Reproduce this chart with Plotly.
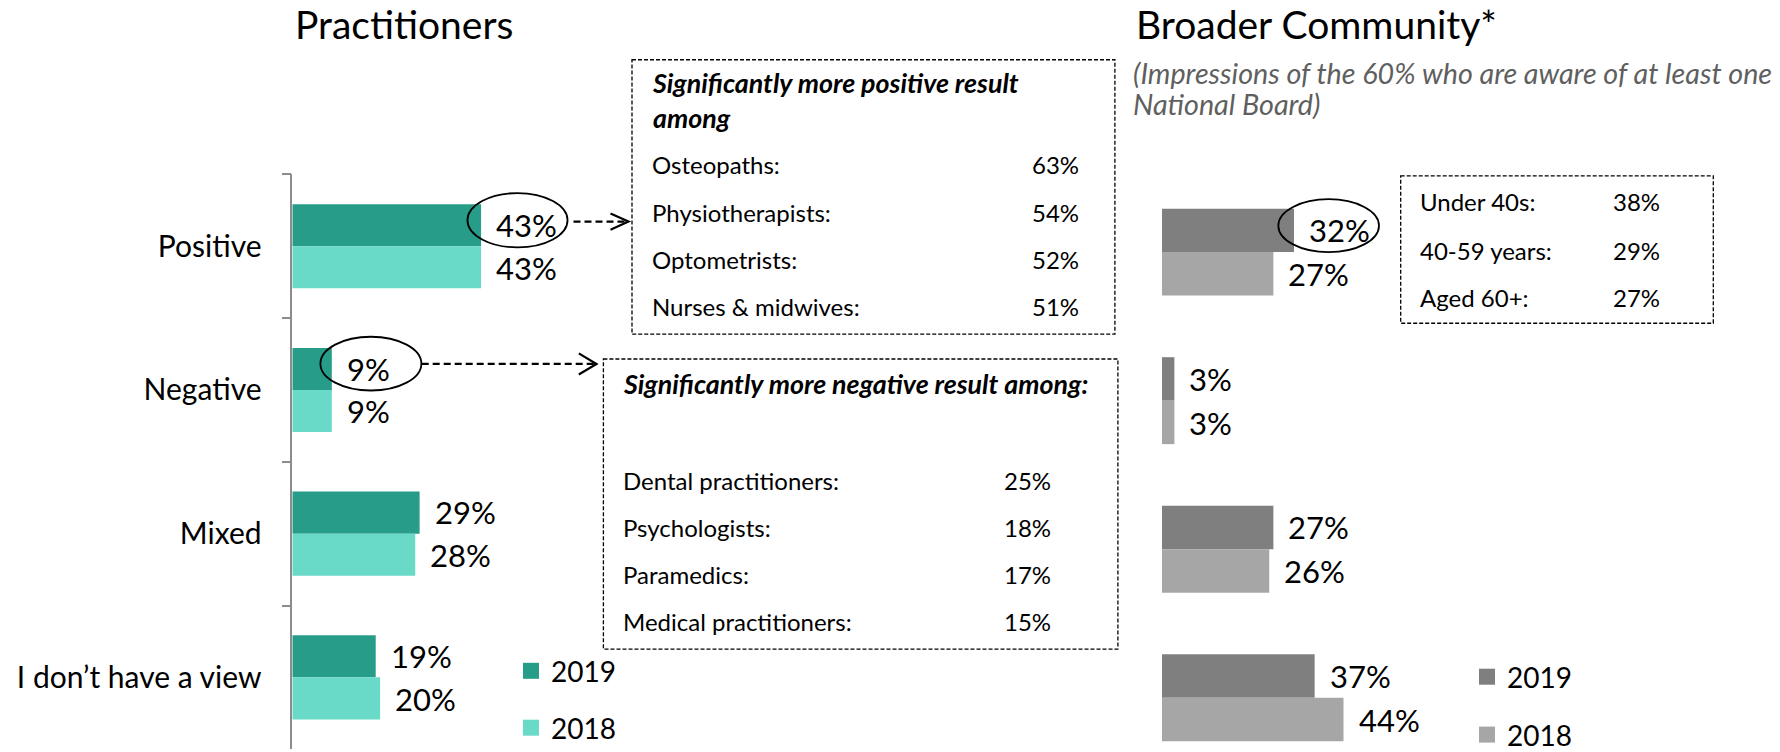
import plotly.graph_objects as go

# ---------------- data ----------------
categories = ["Positive", "Negative", "Mixed", "I don’t have a view"]
years = ["2019", "2018"]
practitioners_2019 = [43, 9, 29, 19]
practitioners_2018 = [43, 9, 28, 20]
community_2019 = [32, 3, 27, 37]
community_2018 = [27, 3, 26, 44]

pos_title = "Significantly more positive result<br>among"
pos_groups = ["Osteopaths:", "Physiotherapists:", "Optometrists:", "Nurses & midwives:"]
pos_values = [63, 54, 52, 51]
neg_title = "Significantly more negative result among:"
neg_groups = ["Dental practitioners:", "Psychologists:", "Paramedics:", "Medical practitioners:"]
neg_values = [25, 18, 17, 15]
age_groups = ["Under 40s:", "40-59 years:", "Aged 60+:"]
age_values = [38, 29, 27]

title_left = "Practitioners"
title_right = "Broader Community*"
subtitle_lines = ["(Impressions of the 60% who are aware of at least one", "National Board)"]

# ---------------- styles ----------------
FONT = "Lato"
TEAL_19, TEAL_18 = "#279C89", "#6ADAC8"
GREY_19, GREY_18 = "#7F7F7F", "#A6A6A6"
LBL = 31
TICK = 30
LEG = 28
BOX = 24
BOX_TITLE = 26.8
BARGAP = 0.415

# canvas geometry: vertical positions below are screen pixels, mapped to page pixels
W, HF = 1780, 760
SY = 0.993


def Y(y):
    return y / SY


def px(x):
    return x / W


def py(y):
    return 1 - Y(y) / HF


# left plot geometry (screen pixels)
L_X0, L_PXPCT = 292.3, 4.39
L_TOP, L_STEP = 175.7, 144.8
# right plot geometry
R_X0, R_PXPCT = 1162.0, 4.125
R_TOP, R_STEP = 179.15, 149.7

fig = go.Figure()

bar_specs = [
    ("x", "y", practitioners_2019, TEAL_19, years[0], "legend"),
    ("x", "y", practitioners_2018, TEAL_18, years[1], "legend"),
    ("x2", "y2", community_2019, GREY_19, years[0], "legend2"),
    ("x2", "y2", community_2018, GREY_18, years[1], "legend2"),
]
for xa, ya, vals, col, name, lg in bar_specs:
    fig.add_trace(go.Bar(
        x=vals, y=categories, orientation="h", xaxis=xa, yaxis=ya,
        marker=dict(color=col, line=dict(width=0)), name=name,
        legendgroup=lg + name, showlegend=False, cliponaxis=False,
        hovertemplate="%{y}: %{x}%<extra>" + name + "</extra>",
    ))
    # legend entry (square swatch)
    fig.add_trace(go.Scatter(
        x=[None], y=[None], mode="markers", xaxis=xa, yaxis=ya,
        marker=dict(symbol="square", size=16, color=col),
        name=name, legend=lg, legendgroup=lg + name, showlegend=True,
    ))

# ---------------- value labels ----------------
half_l = (1 - BARGAP) / 2 * (L_STEP / SY) / 2
half_r = (1 - BARGAP) / 2 * (R_STEP / SY) / 2
annotations = []
for xa, ya, vals, shift in [
    ("x", "y", practitioners_2019, half_l), ("x", "y", practitioners_2018, -half_l),
    ("x2", "y2", community_2019, half_r), ("x2", "y2", community_2018, -half_r),
]:
    for cat, v in zip(categories, vals):
        annotations.append(dict(
            x=v, y=cat, xref=xa, yref=ya, text=f"{v}%", showarrow=False,
            xanchor="left", yanchor="middle", xshift=13, yshift=shift,
            font=dict(family=FONT, size=LBL, color="black"),
        ))

# ---------------- titles ----------------
annotations.append(dict(x=px(293), y=py(24), xref="paper", yref="paper", text=title_left,
                        showarrow=False, xanchor="left", yanchor="middle",
                        font=dict(family=FONT, size=39, color="black")))
annotations.append(dict(x=px(1134), y=py(24), xref="paper", yref="paper", text=title_right,
                        showarrow=False, xanchor="left", yanchor="middle",
                        font=dict(family=FONT, size=39, color="black")))
for line, yy in zip(subtitle_lines, [74, 105]):
    annotations.append(dict(x=px(1131), y=py(yy), xref="paper", yref="paper",
                            text="<i>" + line + "</i>", align="left",
                            showarrow=False, xanchor="left", yanchor="middle",
                            font=dict(family=FONT, size=28.7, color="#5F5F5F")))


# ---------------- call-out boxes ----------------
def box_text(x_left, x_right_pct, y_rows, groups, values, pct_anchor="right"):
    for g, v, yy in zip(groups, values, y_rows):
        annotations.append(dict(x=px(x_left), y=py(yy), xref="paper", yref="paper", text=g,
                                showarrow=False, xanchor="left", yanchor="middle",
                                font=dict(family=FONT, size=BOX, color="black")))
        annotations.append(dict(x=px(x_right_pct), y=py(yy), xref="paper", yref="paper",
                                text=f"{v}%", showarrow=False, xanchor=pct_anchor,
                                yanchor="middle",
                                font=dict(family=FONT, size=BOX, color="black")))


annotations.append(dict(x=px(650), y=py(101), xref="paper", yref="paper",
                        text="<b><i>" + pos_title + "</i></b>", align="left",
                        showarrow=False, xanchor="left", yanchor="middle",
                        font=dict(family=FONT, size=BOX_TITLE, color="black")))
box_text(650, 1081, [166, 214, 261.7, 309.3], pos_groups, pos_values)

annotations.append(dict(x=px(621), y=py(386.7), xref="paper", yref="paper",
                        text="<b><i>" + neg_title + "</i></b>",
                        showarrow=False, xanchor="left", yanchor="middle",
                        font=dict(family=FONT, size=BOX_TITLE, color="black")))
box_text(621, 1053, [484, 531.7, 579.3, 626.7], neg_groups, neg_values)

box_text(1418, 1611, [203.3, 252.7, 300], age_groups, age_values, pct_anchor="left")

shapes = []
box_line = dict(color="black", width=1.3, dash="4px,2px")
for x0, y0, x1, y1 in [(632, 60.2, 1114.9, 336.7), (603.4, 361.7, 1117.9, 654),
                       (1400.7, 177.3, 1713.3, 325.7)]:
    shapes.append(dict(type="rect", xref="paper", yref="paper",
                       x0=px(x0), x1=px(x1), y0=py(y0), y1=py(y1), line=box_line))

# ellipses around highlighted values (in data coordinates)
ell = dict(color="black", width=1.8)
shapes.append(dict(type="circle", xref="x", yref="y",
                   x0=practitioners_2019[0] - 3.1, x1=practitioners_2019[0] + 19.7,
                   y0=0 - 0.37, y1=0 + 0.008, line=ell))
shapes.append(dict(type="circle", xref="x", yref="y",
                   x0=practitioners_2019[1] - 2.6, x1=practitioners_2019[1] + 20.4,
                   y0=1 - 0.37, y1=1 + 0.004, line=ell))
shapes.append(dict(type="circle", xref="x2", yref="y2",
                   x0=community_2019[0] - 3.8, x1=community_2019[0] + 20.6,
                   y0=0 - 0.356, y1=0 + 0.0, line=ell))

# dashed arrows to the boxes
arr = dict(color="black", width=2.2, dash="7px,4px")
for xa, xb, yy, back, spread in [(573.5, 626, 223.3, 18, 8.3), (421.7, 594, 366.7, 17.7, 10.6)]:
    shapes.append(dict(type="line", xref="paper", yref="paper",
                       x0=px(xa), x1=px(xb), y0=py(yy), y1=py(yy), line=arr))
    tip = xb + 2.5
    shapes.append(dict(type="path", xref="paper", yref="paper",
                       path=(f"M {px(tip - back)},{py(yy - spread)} L {px(tip)},{py(yy)} "
                             f"L {px(tip - back)},{py(yy + spread)}"),
                       line=dict(color="black", width=2.2)))

# ---------------- layout ----------------
hidden_x = dict(range=[0, 100], showgrid=False, zeroline=False, showticklabels=False,
                showline=False, ticks="", fixedrange=True)

l_span = (HF - Y(L_TOP)) / (L_STEP / SY)
r_span = (HF - Y(R_TOP)) / (R_STEP / SY)

fig.update_layout(
    width=W, height=HF, autosize=False,
    margin=dict(l=0, r=0, t=0, b=0),
    paper_bgcolor="white", plot_bgcolor="white",
    barmode="group", bargap=BARGAP, bargroupgap=0,
    font=dict(family=FONT, color="black"),
    xaxis=dict(domain=[px(L_X0), px(L_X0 + 100 * L_PXPCT)], anchor="y", **hidden_x),
    yaxis=dict(domain=[0, py(L_TOP)], anchor="x", type="category",
               categoryorder="array", categoryarray=categories,
               range=[-0.5 + l_span, -0.5],
               showline=True, linecolor="#8C8C8C", linewidth=1.5,
               ticks="outside", ticklen=9, tickwidth=1.5, tickcolor="#8C8C8C",
               tickson="boundaries", showgrid=False, zeroline=False,
               ticklabelstandoff=23, automargin=False,
               tickfont=dict(family=FONT, size=TICK, color="black")),
    xaxis2=dict(domain=[px(R_X0), px(R_X0 + 100 * R_PXPCT)], anchor="y2", **hidden_x),
    yaxis2=dict(domain=[0, py(R_TOP)], anchor="x2", type="category",
                categoryorder="array", categoryarray=categories,
                range=[-0.5 + r_span, -0.5],
                showline=False, ticks="", showticklabels=False,
                showgrid=False, zeroline=False, automargin=False),
    legend=dict(x=px(511), y=py(651), xanchor="left", yanchor="top",
                traceorder="grouped", tracegroupgap=17.5, bgcolor="rgba(0,0,0,0)",
                font=dict(family=FONT, size=LEG, color="black")),
    legend2=dict(x=px(1467), y=py(657), xanchor="left", yanchor="top",
                 traceorder="grouped", tracegroupgap=18.5, bgcolor="rgba(0,0,0,0)",
                 font=dict(family=FONT, size=LEG, color="black")),
    annotations=annotations,
    shapes=shapes,
    showlegend=True,
)

fig.write_html(
    "out.html",
    config={"displayModeBar": False},
    post_script=("document.documentElement.style.margin = '0px';"
                 "document.body.style.margin = '0px';"
                 "document.documentElement.style.overflow = 'hidden';"
                 "document.body.style.overflow = 'hidden';"),
)
